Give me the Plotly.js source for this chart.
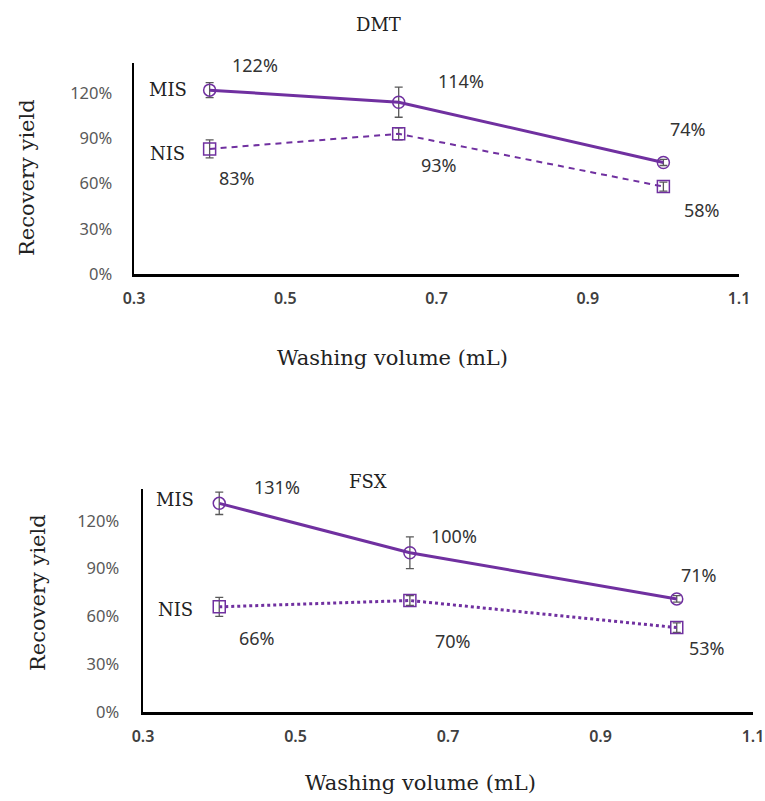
<!DOCTYPE html>
<html>
<head>
<meta charset="utf-8">
<script src="https://cdn.plot.ly/plotly-3.0.1.min.js"></script>
<style>html,body{margin:0;padding:0;background:#fff;}#chart{width:765px;height:801px;}</style>
</head>
<body>
<div id="chart"></div>
<script>
// ---- data ----
const volume = [0.4, 0.65, 1.0];
const xTicks = [0.3, 0.5, 0.7, 0.9, 1.1];
const yTicks = [0, 30, 60, 90, 120];

const dmtMIS = [122, 114, 74];
const dmtMISerr = [5, 10, 2];
const dmtNIS = [83, 93, 58];
const dmtNISerr = [6, 4, 3];

const fsxMIS = [131, 100, 71];
const fsxMISerr = [7, 10, 2];
const fsxNIS = [66, 70, 53];
const fsxNISerr = [6, 3, 3];

const panelTitles = ['DMT', 'FSX'];
const seriesNames = ['MIS', 'NIS'];

// ---- style ----
const PURPLE = '#7030A0';
const W = 765, H = 801;
const px = x => x / W;
const py = y => 1 - y / H;

function series(x, y, err, name, sym, dash, width, xa, ya) {
  return {
    type: 'scatter', mode: 'lines+markers', name: name, x: x, y: y,
    xaxis: xa, yaxis: ya,
    line: {color: PURPLE, width: width, dash: dash},
    marker: {symbol: sym, size: 12, color: PURPLE, line: {width: 1.5, color: PURPLE}},
    error_y: {type: 'data', array: err, visible: true, color: '#595959', thickness: 1.3, width: 4},
    showlegend: false, cliponaxis: false
  };
}

const traces = [
  series(volume, dmtMIS, dmtMISerr, seriesNames[0], 'circle-open', 'solid', 3, 'x', 'y'),
  series(volume, dmtNIS, dmtNISerr, seriesNames[1], 'square-open', '6px,5px', 2, 'x', 'y'),
  series(volume, fsxMIS, fsxMISerr, seriesNames[0], 'circle-open', 'solid', 3, 'x2', 'y2'),
  series(volume, fsxNIS, fsxNISerr, seriesNames[1], 'square-open', 'dot', 3, 'x2', 'y2')
];

const yTickFont = {family: 'Noto Sans, sans-serif', size: 16.5, color: '#595959'};
const xTickFont = {family: 'Noto Sans, sans-serif', size: 16, color: '#404040', weight: 600};
const serif = 'DejaVu Serif, serif';

function xAxis(domain, anchor) {
  return {domain: domain, anchor: anchor, range: [0.3, 1.1], tickvals: xTicks,
    ticktext: xTicks.map(v => v.toFixed(1)),
    showline: true, linecolor: '#000', linewidth: 2.5, showgrid: false, zeroline: false,
    ticks: 'outside', ticklen: 8, tickcolor: 'rgba(0,0,0,0)', tickfont: xTickFont};
}
function yAxis(domain, anchor, standoff) {
  return {domain: domain, anchor: anchor, range: [0, 140], tickvals: yTicks,
    ticktext: yTicks.map(v => v + '%'),
    showline: true, linecolor: '#000', linewidth: 2.5, showgrid: false, zeroline: false,
    ticks: 'outside', ticklen: standoff, tickcolor: 'rgba(0,0,0,0)', tickfont: yTickFont};
}

const annotations = [];
const labelFont = {family: 'Noto Sans, sans-serif', size: 18, color: '#333'};
// value labels: [xshift, yshift] offsets per point
function valueLabels(vals, xa, ya, offs) {
  vals.forEach((v, i) => {
    annotations.push({x: volume[i], y: v, xref: xa, yref: ya, text: v + '%', showarrow: false,
      xanchor: 'center', yanchor: 'middle',
      xshift: offs[i][0], yshift: offs[i][1], font: labelFont});
  });
}
valueLabels(dmtMIS, 'x', 'y', [[45, 25], [62, 21], [25, 33]]);
valueLabels(dmtNIS, 'x', 'y', [[27, -29], [40, -31], [39, -23]]);
valueLabels(fsxMIS, 'x2', 'y2', [[58, 16], [44, 17], [22, 24]]);
valueLabels(fsxNIS, 'x2', 'y2', [[38, -31], [43, -40], [30, -20]]);

// series name labels beside first point
function nameLabel(text, y, xa, ya, xs, ys) {
  annotations.push({x: volume[0], y: y, xref: xa, yref: ya, text: text, showarrow: false,
    xanchor: 'center', yanchor: 'middle',
    xshift: xs, yshift: ys, font: {family: serif, size: 18, color: '#222'}});
}
nameLabel(seriesNames[0], dmtMIS[0], 'x', 'y', -42, 1);
nameLabel(seriesNames[1], dmtNIS[0], 'x', 'y', -42, -5);
nameLabel(seriesNames[0], fsxMIS[0], 'x2', 'y2', -44, 4);
nameLabel(seriesNames[1], fsxNIS[0], 'x2', 'y2', -44, -3);

// panel titles
annotations.push({xref: 'paper', yref: 'paper', x: px(378), y: py(25), text: panelTitles[0], showarrow: false,
  xanchor: 'center', yanchor: 'middle', font: {family: serif, size: 18, color: '#222'}});
annotations.push({xref: 'paper', yref: 'paper', x: px(368), y: py(481), text: panelTitles[1], showarrow: false,
  xanchor: 'center', yanchor: 'middle', font: {family: serif, size: 18, color: '#222'}});

// axis titles
const axisTitleFont = {family: serif, size: 21, color: '#222'};
[[393, 358], [420, 783]].forEach(p => annotations.push({xref: 'paper', yref: 'paper', x: px(p[0]), y: py(p[1]),
  xanchor: 'center', yanchor: 'middle', text: 'Washing volume (mL)', showarrow: false, font: axisTitleFont}));
[[27, 178], [38, 593]].forEach(p => annotations.push({xref: 'paper', yref: 'paper', x: px(p[0]), y: py(p[1]),
  xanchor: 'center', yanchor: 'middle', text: 'Recovery yield', textangle: -90, showarrow: false, font: axisTitleFont}));

const layout = {
  width: W, height: H,
  margin: {l: 0, r: 0, t: 0, b: 0},
  paper_bgcolor: '#fff', plot_bgcolor: '#fff',
  showlegend: false,
  xaxis: xAxis([px(134), px(739)], 'y'),
  yaxis: yAxis([py(274), py(63)], 'x', 16),
  xaxis2: xAxis([px(143), px(753)], 'y2'),
  yaxis2: yAxis([py(712), py(489)], 'x2', 18),
  annotations: annotations
};

Plotly.newPlot('chart', traces, layout, {displayModeBar: false, staticPlot: true});
</script>
</body>
</html>
